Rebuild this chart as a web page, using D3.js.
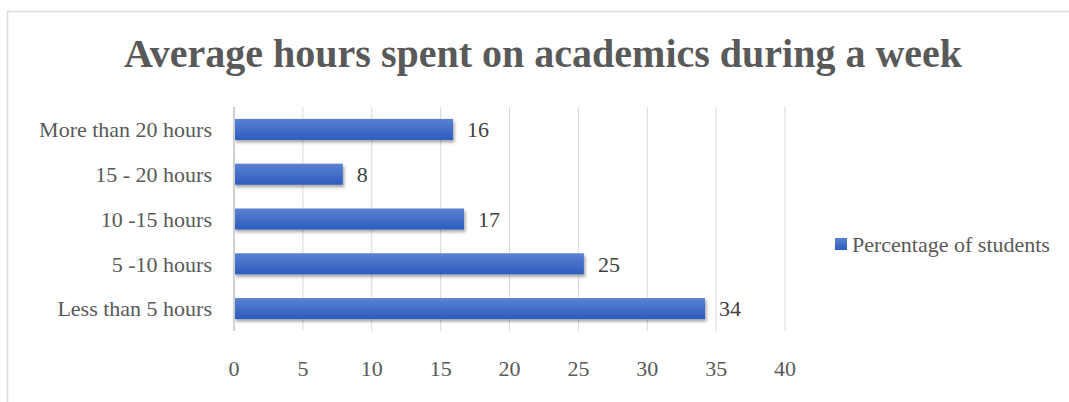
<!DOCTYPE html>
<html>
<head>
<meta charset="utf-8">
<script src="https://cdn.jsdelivr.net/npm/d3@7"></script>
<style>
  body { margin: 0; background: #fff; }
  text { font-family: "Liberation Serif", "Times New Roman", serif; }
</style>
</head>
<body>
<svg id="chart" width="1069" height="402"></svg>
<script>
// Data
const categories = ["More than 20 hours", "15 - 20 hours", "10 -15 hours", "5 -10 hours", "Less than 5 hours"];
const values = [15.9, 7.9, 16.7, 25.4, 34.2];
const valueLabels = ["16", "8", "17", "25", "34"];
const xTicks = [0, 5, 10, 15, 20, 25, 30, 35, 40];
const seriesName = "Percentage of students";
const title = "Average hours spent on academics during a week";

const data = categories.map((c, i) => ({ cat: c, val: values[i], label: valueLabels[i] }));

const svg = d3.select("#chart");

// chart frame
svg.append("rect")
  .attr("x", 7.5).attr("y", 11.5)
  .attr("width", 1080).attr("height", 400)
  .attr("fill", "#fff").attr("stroke", "#d9d9d9").attr("stroke-width", 1.5);

// gradient + shadow for bars
const defs = svg.append("defs");
const grad = defs.append("linearGradient").attr("id", "barGrad")
  .attr("x1", 0).attr("y1", 0).attr("x2", 0).attr("y2", 1);
grad.append("stop").attr("offset", "0%").attr("stop-color", "#5b82d2");
grad.append("stop").attr("offset", "100%").attr("stop-color", "#2d5cbd");
const shadow = defs.append("filter").attr("id", "shadow")
  .attr("x", "-5%").attr("y", "-30%").attr("width", "115%").attr("height", "180%");
shadow.append("feDropShadow").attr("dx", 1.5).attr("dy", 2.5).attr("stdDeviation", 1.5)
  .attr("flood-color", "#000").attr("flood-opacity", 0.35);

// title
svg.append("text")
  .attr("x", 543).attr("y", 67)
  .attr("text-anchor", "middle")
  .attr("font-size", 40).attr("font-weight", "bold")
  .attr("fill", "#595959")
  .text(title);

// scales
const x = d3.scaleLinear().domain([0, 40]).range([234, 785]);
const y = d3.scaleBand().domain(categories).range([107, 331]).paddingInner(0.53).paddingOuter(0.265);

// gridlines
svg.append("g").selectAll("line")
  .data(xTicks.slice(1))
  .enter().append("line")
  .attr("x1", d => x(d)).attr("x2", d => x(d))
  .attr("y1", 107).attr("y2", 331)
  .attr("stroke", "#d9d9d9").attr("stroke-width", 1);

// bars
svg.append("g").selectAll("rect")
  .data(data)
  .enter().append("rect")
  .attr("x", x(0))
  .attr("y", d => y(d.cat))
  .attr("width", d => x(d.val) - x(0))
  .attr("height", y.bandwidth())
  .attr("fill", "url(#barGrad)")
  .attr("filter", "url(#shadow)");

// left axis line
svg.append("line")
  .attr("x1", x(0)).attr("x2", x(0))
  .attr("y1", 107).attr("y2", 331)
  .attr("stroke", "#d0d0d0").attr("stroke-width", 2);

// value labels
svg.append("g").selectAll("text")
  .data(data)
  .enter().append("text")
  .attr("x", d => x(d.val) + 14)
  .attr("y", d => y(d.cat) + y.bandwidth() / 2)
  .attr("dy", "0.35em")
  .attr("font-size", 22).attr("fill", "#404040")
  .text(d => d.label);

// category labels
svg.append("g").selectAll("text")
  .data(categories)
  .enter().append("text")
  .attr("x", 212)
  .attr("y", d => y(d) + y.bandwidth() / 2)
  .attr("dy", "0.35em")
  .attr("text-anchor", "end")
  .attr("font-size", 22).attr("fill", "#595959")
  .text(d => d);

// x tick labels
svg.append("g").selectAll("text")
  .data(xTicks)
  .enter().append("text")
  .attr("x", d => x(d))
  .attr("y", 376)
  .attr("text-anchor", "middle")
  .attr("font-size", 22).attr("fill", "#595959")
  .text(d => d);

// legend
const leg = svg.append("g").attr("transform", "translate(835,238)");
leg.append("rect").attr("width", 12).attr("height", 12).attr("fill", "url(#barGrad)");
leg.append("text").attr("x", 17).attr("y", 6).attr("dy", "0.35em")
  .attr("font-size", 22).attr("fill", "#595959")
  .text(seriesName);
</script>
</body>
</html>
